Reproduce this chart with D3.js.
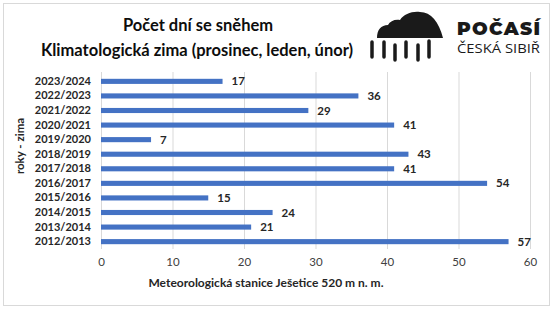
<!DOCTYPE html>
<html>
<head>
<meta charset="utf-8">
<script src="https://cdn.jsdelivr.net/npm/d3@7"></script>
<style>
  body { margin: 0; background: #fff; }
  svg { font-family: Lato, Carlito, Calibri, sans-serif; }
</style>
</head>
<body>
<div id="chart"></div>
<script>
var winters = ['2012/2013', '2013/2014', '2014/2015', '2015/2016', '2016/2017', '2017/2018',
  '2018/2019', '2019/2020', '2020/2021', '2021/2022', '2022/2023', '2023/2024']
var snowDays = [57, 21, 24, 15, 54, 41, 43, 7, 41, 29, 36, 17]
var xTicks = [0, 10, 20, 30, 40, 50, 60]

var width = 553
var height = 309
var margin = { top: 74, left: 101, right: 23, bottom: 60 }

var svg = d3.select('#chart')
  .append('svg')
  .attr('width', width)
  .attr('height', height)

// outer frame
svg.append('rect')
  .attr('x', 3.5).attr('y', 3.5)
  .attr('width', width - 7).attr('height', height - 7)
  .attr('fill', 'white')
  .attr('stroke', '#d9d9d9')

var data = winters.map((w, i) => ({ winter: w, days: snowDays[i] }))

var x = d3.scaleLinear()
  .domain([0, 60])
  .range([margin.left, width - margin.right])

var y = d3.scaleBand()
  .domain(winters.slice().reverse())
  .range([margin.top, height - margin.bottom])
  .paddingInner(0.65)
  .paddingOuter(0.33)

// gridlines
svg.append('g')
  .selectAll('line')
  .data(xTicks)
  .join('line')
  .attr('x1', d => x(d) + 0.5)
  .attr('x2', d => x(d) + 0.5)
  .attr('y1', margin.top - 2)
  .attr('y2', height - margin.bottom)
  .attr('stroke', '#d9d9d9')

// bars
svg.append('g')
  .selectAll('rect')
  .data(data)
  .join('rect')
  .attr('x', x(0))
  .attr('y', d => y(d.winter))
  .attr('width', d => x(d.days) - x(0))
  .attr('height', y.bandwidth())
  .attr('fill', '#4472c4')

// value labels
svg.append('g')
  .selectAll('text')
  .data(data)
  .join('text')
  .attr('x', d => x(d.days) + 9)
  .attr('y', d => y(d.winter) + y.bandwidth() / 2)
  .attr('dy', '0.35em')
  .attr('font-size', 11.5)
  .attr('font-weight', 'bold')
  .attr('fill', '#262626')
  .text(d => d.days)

// category axis
var yAxis = svg.append('g')
  .attr('transform', 'translate(' + (margin.left) + ',0)')
  .call(d3.axisLeft(y).tickSize(0).tickPadding(10))
yAxis.select('.domain').remove()
yAxis.selectAll('text')
  .attr('font-size', 11)
  .attr('font-weight', 'bold')
  .attr('fill', '#262626')
  .attr('font-family', 'Lato, sans-serif')

// value axis
var xAxis = svg.append('g')
  .attr('transform', 'translate(0,' + (height - margin.bottom) + ')')
  .call(d3.axisBottom(x).tickValues(xTicks).tickSize(0).tickPadding(9))
xAxis.select('.domain').remove()
xAxis.selectAll('text')
  .attr('font-size', 11.5)
  .attr('fill', '#404040')
  .attr('font-family', 'Lato, sans-serif')

// axis titles
svg.append('text')
  .attr('x', 266)
  .attr('y', 287)
  .attr('text-anchor', 'middle')
  .attr('font-size', 12)
  .attr('font-weight', 'bold')
  .attr('fill', '#262626')
  .text('Meteorologická stanice Ješetice 520 m n. m.')

svg.append('text')
  .attr('transform', 'translate(24,146) rotate(-90)')
  .attr('text-anchor', 'middle')
  .attr('font-size', 11.5)
  .attr('font-weight', 'bold')
  .attr('fill', '#262626')
  .text('roky - zima')

// chart title
svg.append('text')
  .attr('x', 198)
  .attr('y', 31)
  .attr('text-anchor', 'middle')
  .attr('font-size', 16.5)
  .attr('font-weight', 'bold')
  .attr('fill', '#0d0d0d')
  .text('Počet dní se sněhem')

svg.append('text')
  .attr('x', 197)
  .attr('y', 56)
  .attr('text-anchor', 'middle')
  .attr('font-size', 16.5)
  .attr('font-weight', 'bold')
  .attr('fill', '#0d0d0d')
  .text('Klimatologická zima (prosinec, leden, únor)')

// logo: cloud + rain
var logo = svg.append('g').attr('fill', '#1a1a1a')
logo.append('path')
  .attr('d', 'M377,38 C377,30 381,25 388,25 C390,21 395,19 400,20 C404,14 412,11 420,12 ' +
    'C431,12 439,22 443,38 Z')
var drops = [[372, 42, 57], [384, 42, 57], [395, 45, 60], [406, 42, 57], [418, 45, 60], [429, 41, 57]]
logo.selectAll('line')
  .data(drops)
  .join('line')
  .attr('x1', d => d[0]).attr('x2', d => d[0])
  .attr('y1', d => d[1]).attr('y2', d => d[2])
  .attr('stroke', '#1a1a1a')
  .attr('stroke-width', 3.5)
  .attr('stroke-linecap', 'round')

svg.append('text')
  .attr('x', 457)
  .attr('y', 35)
  .attr('font-size', 18.5)
  .attr('font-weight', 900)
  .attr('fill', '#1a1a1a')
  .attr('textLength', 83)
  .attr('font-family', 'Montserrat, "Open Sans", sans-serif')
  .text('POČASÍ')

svg.append('text')
  .attr('x', 457)
  .attr('y', 53)
  .attr('font-size', 13.5)
  .attr('fill', '#1a1a1a')
  .attr('textLength', 83)
  .attr('lengthAdjust', 'spacingAndGlyphs')
  .attr('font-family', '"Open Sans", sans-serif')
  .text('ČESKÁ SIBIŘ')
</script>
</body>
</html>
